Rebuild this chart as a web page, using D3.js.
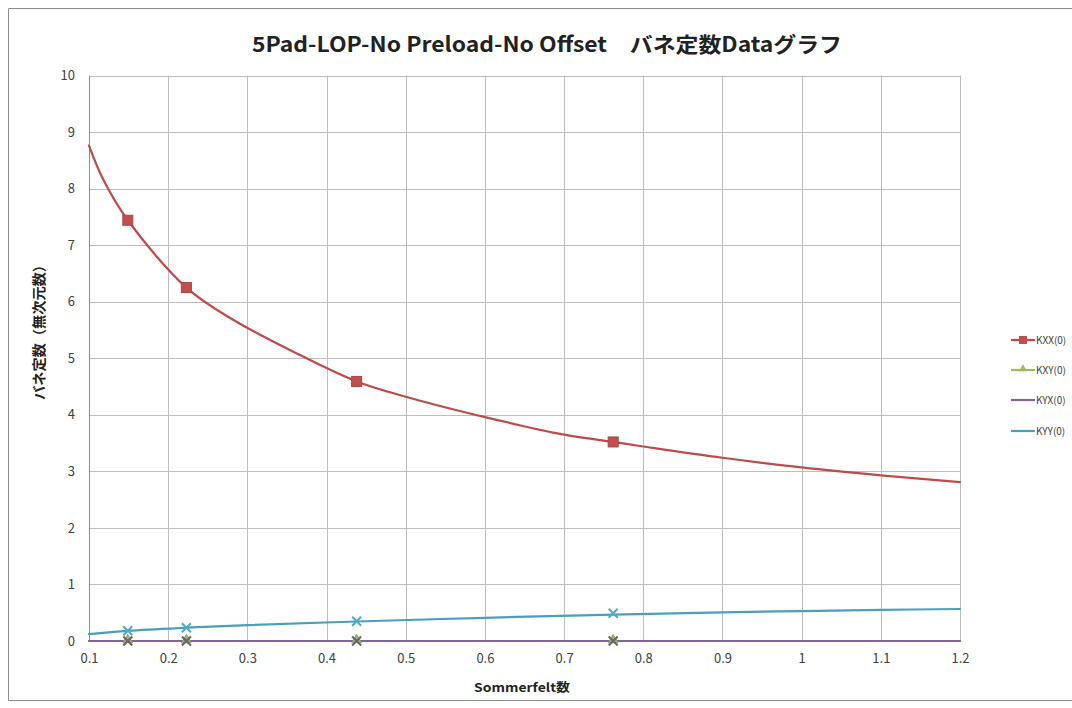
<!DOCTYPE html>
<html>
<head>
<meta charset="utf-8">
<script src="https://cdn.jsdelivr.net/npm/d3@7"></script>
<style>
  html, body { margin: 0; padding: 0; background: #fff; }
  svg { display: block; }
  text { font-family: "Noto Sans CJK JP", "Noto Sans", sans-serif; }
</style>
</head>
<body>
<svg id="chart" width="1072" height="708"></svg>
<script>
// ---- data ----
const titleText = "5Pad-LOP-No Preload-No Offset\u3000バネ定数Dataグラフ";
const xTitle = "Sommerfelt数";
const yTitle = "バネ定数（無次元数）";
const seriesNames = ["KXX(0)", "KXY(0)", "KYX(0)", "KYY(0)"];
const xTicks = [0.1, 0.2, 0.3, 0.4, 0.5, 0.6, 0.7, 0.8, 0.9, 1.0, 1.1, 1.2];
const yTicks = [0, 1, 2, 3, 4, 5, 6, 7, 8, 9, 10];

// measured points (markers)
const sommerfeld = [0.149, 0.223, 0.438, 0.762];
const kxx = [7.44, 6.25, 4.59, 3.52];
const kxy = [0, 0, 0, 0];
const kyx = [0, 0, 0, 0];
const kyy = [0.18, 0.235, 0.35, 0.49];

// smooth curves as drawn in the reference
const kxxCurveX = [0.1, 0.118, 0.149, 0.223, 0.282, 0.366, 0.438, 0.5, 0.6, 0.7, 0.762, 0.8, 0.9, 1.0, 1.1, 1.2];
const kxxCurveY = [8.76, 8.16, 7.44, 6.25, 5.68, 5.06, 4.59, 4.32, 3.96, 3.65, 3.52, 3.44, 3.24, 3.07, 2.93, 2.81];
const kyyCurveX = [0.1, 0.149, 0.223, 0.3, 0.438, 0.6, 0.762, 0.9, 1.0, 1.1, 1.2];
const kyyCurveY = [0.12, 0.18, 0.235, 0.28, 0.345, 0.41, 0.465, 0.505, 0.53, 0.55, 0.566];
const zeroCurveX = [0.1, 1.2];
const kxyCurveY = [0, 0];
const kyxCurveY = [0, 0];

const colors = ["#BE4B48", "#9BBB59", "#7F64A0", "#4A9FBD"];

// ---- layout ----
const svg = d3.select("#chart");
const plot = { left: 89, right: 960, top: 75.5, bottom: 641 };

svg.append("path")
  .attr("d", "M1072,8.5H8.5V700.5H1072")
  .attr("fill", "none").attr("stroke", "#8c8c8c").attr("stroke-width", 1);

const x = d3.scaleLinear().domain([0.1, 1.2]).range([plot.left, plot.right]);
const y = d3.scaleLinear().domain([0, 10]).range([plot.bottom, plot.top]);

// gridlines
const grid = svg.append("g");
grid.selectAll("line.h").data(yTicks).join("line")
  .attr("x1", plot.left).attr("x2", plot.right)
  .attr("y1", d => Math.round(y(d)) + 0.5).attr("y2", d => Math.round(y(d)) + 0.5)
  .attr("stroke", "#bdbdbd").attr("stroke-width", 1);
grid.selectAll("line.v").data(xTicks).join("line")
  .attr("y1", plot.top).attr("y2", plot.bottom)
  .attr("x1", d => Math.round(x(d)) + 0.5).attr("x2", d => Math.round(x(d)) + 0.5)
  .attr("stroke", "#bdbdbd").attr("stroke-width", 1);

// axes (labels only, using d3 axes)
const yAxis = svg.append("g")
  .attr("transform", `translate(${plot.left},0)`)
  .call(d3.axisLeft(y).tickValues(yTicks).tickSize(0).tickPadding(14).tickFormat(d3.format("d")));
yAxis.select(".domain").attr("stroke", "#8c8c8c");
yAxis.selectAll("text").attr("font-size", 13).attr("fill", "#404040");

const xAxis = svg.append("g")
  .attr("transform", `translate(0,${plot.bottom})`)
  .call(d3.axisBottom(x).tickValues(xTicks).tickSize(0).tickPadding(13).tickFormat(d => d3.format("~g")(+d.toFixed(1))));
xAxis.select(".domain").attr("stroke", "#8c8c8c");
xAxis.selectAll("text").attr("font-size", 13).attr("fill", "#404040");

// lines
const line = d3.line().x(d => x(d[0])).y(d => y(d[1])).curve(d3.curveCatmullRom.alpha(0.5));
const curves = [
  { xs: zeroCurveX, ys: kxyCurveY, c: colors[1] },
  { xs: zeroCurveX, ys: kyxCurveY, c: colors[2] },
  { xs: kyyCurveX, ys: kyyCurveY, c: colors[3] },
  { xs: kxxCurveX, ys: kxxCurveY, c: colors[0] }
];
curves.forEach(cv => {
  svg.append("path")
    .datum(d3.zip(cv.xs, cv.ys))
    .attr("d", line)
    .attr("fill", "none")
    .attr("stroke", cv.c)
    .attr("stroke-width", 2.2)
    .attr("stroke-linecap", "round");
});

// markers
const g = svg.append("g");
// KXX squares
g.selectAll("rect.kxx").data(d3.zip(sommerfeld, kxx)).join("rect")
  .attr("x", d => x(d[0]) - 5).attr("y", d => y(d[1]) - 5)
  .attr("width", 10).attr("height", 10)
  .attr("fill", "#C0504D").attr("stroke", "#A84542").attr("stroke-width", 1);
// KXY triangles
const tri = d3.symbol().type(d3.symbolTriangle).size(40);
g.selectAll("path.kxy").data(d3.zip(sommerfeld, kxy)).join("path")
  .attr("d", tri)
  .attr("transform", d => `translate(${x(d[0])},${y(d[1]) - 1})`)
  .attr("fill", "#9BBB59").attr("stroke", "#8AA84E");
// X marks for KYX and KYY
function xMark(sel, data, color) {
  sel.selectAll(null).data(data).join("path")
    .attr("d", d => {
      const cx = x(d[0]), cy = y(d[1]), r = 4.5;
      return `M${cx - r},${cy - r}L${cx + r},${cy + r}M${cx - r},${cy + r}L${cx + r},${cy - r}`;
    })
    .attr("stroke", color).attr("stroke-width", 2).attr("fill", "none");
}
xMark(g.append("g"), d3.zip(sommerfeld, kyx), "#6B6375");
xMark(g.append("g"), d3.zip(sommerfeld, kyy), "#4BACC6");

// title
svg.append("text")
  .attr("x", 547).attr("y", 52)
  .attr("text-anchor", "middle")
  .attr("font-size", 21).attr("font-weight", "bold").attr("fill", "#222")
  .attr("textLength", 590).attr("lengthAdjust", "spacingAndGlyphs")
  .text(titleText);

// axis titles
svg.append("text")
  .attr("x", 522).attr("y", 692)
  .attr("text-anchor", "middle")
  .attr("font-size", 12).attr("font-weight", "bold").attr("fill", "#222")
  .attr("textLength", 96).attr("lengthAdjust", "spacingAndGlyphs")
  .text(xTitle);
svg.append("text")
  .attr("transform", "translate(44,329) rotate(-90)")
  .attr("text-anchor", "middle")
  .attr("font-size", 14).attr("font-weight", "bold").attr("fill", "#222")
  .attr("textLength", 142).attr("lengthAdjust", "spacingAndGlyphs")
  .text(yTitle);

// legend
const legendY = [340, 370, 400, 431];
const leg = svg.append("g");
seriesNames.forEach((name, i) => {
  const ly = legendY[i];
  leg.append("line").attr("x1", 1011).attr("x2", 1035).attr("y1", ly).attr("y2", ly)
    .attr("stroke", colors[i]).attr("stroke-width", 2.2);
  if (i === 0) {
    leg.append("rect").attr("x", 1019).attr("y", ly - 4).attr("width", 8).attr("height", 8)
      .attr("fill", "#C0504D");
  } else if (i === 1) {
    leg.append("path").attr("d", d3.symbol().type(d3.symbolTriangle).size(28))
      .attr("transform", `translate(1023,${ly - 1})`).attr("fill", "#9BBB59");
  }
  leg.append("text").attr("x", 1036).attr("y", ly + 4)
    .attr("font-size", 10).attr("fill", "#404040")
    .text(name);
});
</script>
</body>
</html>
